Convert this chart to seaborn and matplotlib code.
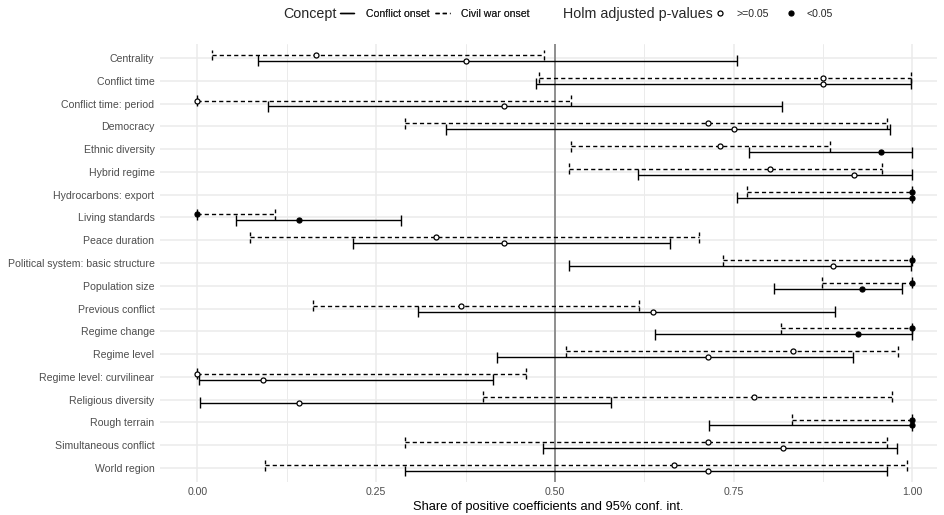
import numpy as np
import pandas as pd
import matplotlib
matplotlib.use("Agg")
import matplotlib.pyplot as plt
import seaborn as sns
from matplotlib.lines import Line2D

categories = ["Centrality", "Conflict time", "Conflict time: period", "Democracy",
              "Ethnic diversity", "Hybrid regime", "Hydrocarbons: export",
              "Living standards", "Peace duration", "Political system: basic structure",
              "Population size", "Previous conflict", "Regime change", "Regime level",
              "Regime level: curvilinear", "Religious diversity", "Rough terrain",
              "Simultaneous conflict", "World region"]

# Conflict onset (solid)
conflict_lo = [0.084, 0.473, 0.098, 0.348, 0.772, 0.616, 0.754, 0.054, 0.218, 0.519,
               0.806, 0.308, 0.640, 0.419, 0.002, 0.003, 0.715, 0.483, 0.290]
conflict_est = [0.375, 0.875, 0.429, 0.751, 0.956, 0.918, 1.000, 0.142, 0.429, 0.889,
                0.930, 0.637, 0.924, 0.714, 0.091, 0.142, 1.000, 0.819, 0.714]
conflict_hi = [0.755, 0.998, 0.817, 0.969, 1.000, 1.000, 1.000, 0.285, 0.661, 0.998,
               0.986, 0.892, 1.000, 0.917, 0.413, 0.579, 1.000, 0.978, 0.964]
conflict_sig = [False, False, False, False, True, False, True, True, False, False,
                True, False, True, False, False, False, True, False, False]

# Civil war onset (dashed)
civil_lo = [0.020, 0.477, 0.000, 0.290, 0.522, 0.520, 0.769, 0.000, 0.074, 0.735,
            0.873, 0.162, 0.816, 0.516, 0.000, 0.400, 0.832, 0.290, 0.094]
civil_est = [0.166, 0.875, 0.000, 0.714, 0.731, 0.801, 1.000, 0.000, 0.333, 1.000,
             1.000, 0.368, 1.000, 0.833, 0.000, 0.778, 1.000, 0.714, 0.667]
civil_hi = [0.484, 0.998, 0.522, 0.964, 0.885, 0.958, 1.000, 0.108, 0.701, 1.000,
            1.000, 0.617, 1.000, 0.980, 0.459, 0.972, 1.000, 0.964, 0.992]
civil_sig = [False, False, False, False, False, False, True, True, False, True,
             True, False, True, False, False, False, True, False, False]

x_ticks = [0.0, 0.25, 0.5, 0.75, 1.0]
x_tick_labels = ["0.00", "0.25", "0.50", "0.75", "1.00"]

n = len(categories)
idx = np.arange(n)
df = pd.concat([
    pd.DataFrame({"category": categories, "pos": idx + 0.13, "lo": conflict_lo,
                  "est": conflict_est, "hi": conflict_hi, "sig": conflict_sig,
                  "concept": "Conflict onset"}),
    pd.DataFrame({"category": categories, "pos": idx - 0.13, "lo": civil_lo,
                  "est": civil_est, "hi": civil_hi, "sig": civil_sig,
                  "concept": "Civil war onset"}),
], ignore_index=True)

sns.set_theme(style="whitegrid")
plt.rcParams['font.family'] = ['Liberation Sans', 'DejaVu Sans']
plt.rcParams['lines.scale_dashes'] = False

fig, ax = plt.subplots(figsize=(9.45, 5.15), dpi=100)
fig.subplots_adjust(left=160/945, right=937.5/945, top=1-44.3/515, bottom=1-481.7/515)

ax.set_facecolor("white")
for s in ax.spines.values():
    s.set_visible(False)

dash = (0, (3.0, 2.2))
styles = {"Conflict onset": "-", "Civil war onset": dash}
cap = 0.24
lw = 1.0
for _, r in df.iterrows():
    ls = styles[r["concept"]]
    y = r["pos"]
    ax.plot([r["lo"], r["hi"]], [y, y], color="black", lw=lw, ls=ls, zorder=2,
            solid_capstyle="butt", dash_capstyle="butt")
    for xv in (r["lo"], r["hi"]):
        ax.plot([xv, xv], [y + cap, y - cap], color="black", lw=lw, ls=ls, zorder=2,
                solid_capstyle="butt", dash_capstyle="butt")

ax.axvline(0.5, color="#7f7f7f", lw=1.2, zorder=1.5)

sig_df = df[df["sig"]]
ns_df = df[~df["sig"]]
sns.scatterplot(data=ns_df, x="est", y="pos", ax=ax, s=13, marker="o",
                facecolor="white", edgecolor="black", linewidth=0.9, zorder=4, legend=False)
sns.scatterplot(data=sig_df, x="est", y="pos", ax=ax, s=13, marker="o",
                color="black", edgecolor="black", linewidth=0.9, zorder=4, legend=False)

ax.set_xlim(-0.0524, 1.035)
ax.set_ylim(n - 1 + 0.6, -0.6)
ax.set_yticks(idx)
ax.set_yticklabels(categories)
ax.set_xticks(x_ticks)
ax.set_xticklabels(x_tick_labels)
ax.set_xticks([0.125, 0.375, 0.625, 0.875], minor=True)
ax.grid(True, which="major", color="#EBEBEB", lw=1.1)
ax.grid(True, which="minor", axis="x", color="#EBEBEB", lw=0.7)
ax.set_axisbelow(True)
ax.tick_params(axis="both", which="both", length=0, labelsize=7.6, labelcolor="#4D4D4D", pad=4)
ax.set_xlabel("Share of positive coefficients and 95% conf. int.", fontsize=9.3,
              color="black", labelpad=3)
ax.set_ylabel("")

# legend
ytop = 1 - 14/515
fig.text(283/945, ytop, "Concept", fontsize=10.3, va="center", ha="left")
fig.text(563/945, ytop, "Holm adjusted p-values", fontsize=10.3, va="center", ha="left")
h1 = [Line2D([], [], color="black", lw=lw, ls="-"),
      Line2D([], [], color="black", lw=lw, ls=dash)]
leg1 = fig.legend(h1, ["Conflict onset", "Civil war onset"], ncol=2, frameon=False,
                  fontsize=7.6, loc="center left", bbox_to_anchor=(340/945, ytop),
                  handlelength=1.35, handletextpad=1.1, columnspacing=0.55, borderaxespad=0,
                  borderpad=0)
h2 = [Line2D([], [], color="black", marker="o", ls="", markersize=3.6,
             markerfacecolor="white", markeredgewidth=0.9),
      Line2D([], [], color="black", marker="o", ls="", markersize=3.6,
             markerfacecolor="black", markeredgewidth=0.9)]
leg2 = fig.legend(h2, [">=0.05", "<0.05"], ncol=2, frameon=False,
                  fontsize=7.6, loc="center left", bbox_to_anchor=(712/945, ytop),
                  handlelength=1.6, handletextpad=0.7, columnspacing=1.3, borderaxespad=0,
                  borderpad=0)
fig.add_artist(leg1)

fig.savefig("out.png", dpi=100)
